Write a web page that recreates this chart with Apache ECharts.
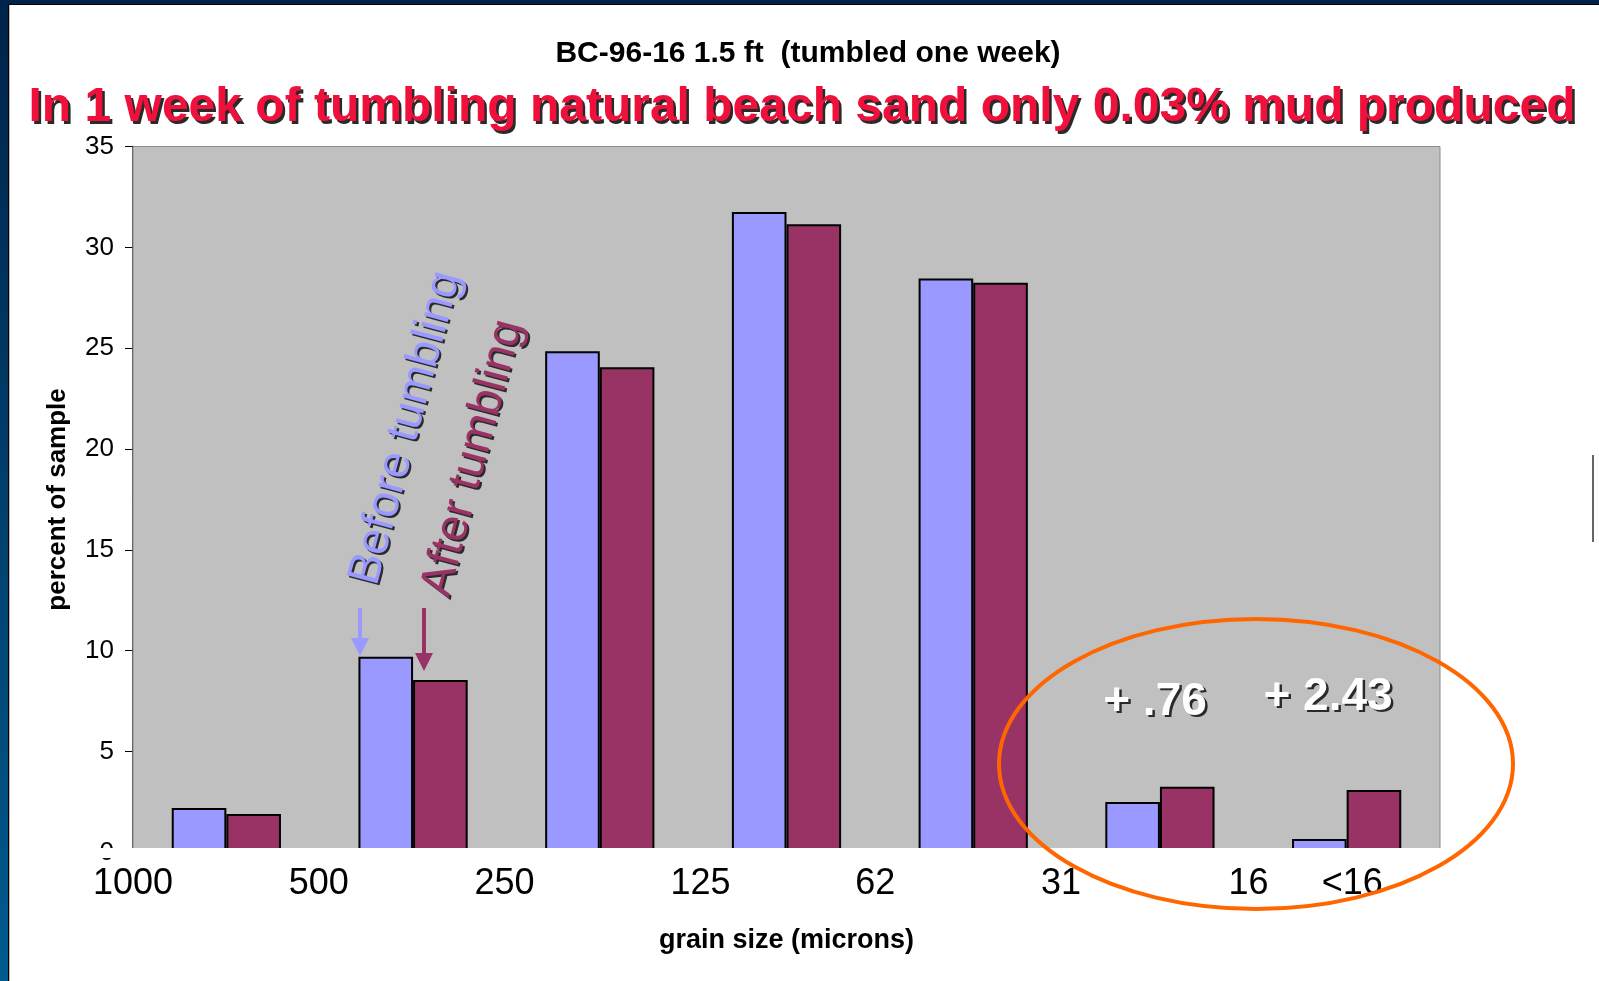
<!doctype html>
<html>
<head>
<meta charset="utf-8">
<style>
  html, body { margin:0; padding:0; background:#fff; }
  #main { width:1599px; height:981px; }
</style>
</head>
<body>
<div id="main"></div>
<script src="https://cdn.jsdelivr.net/npm/echarts@6/dist/echarts.min.js"></script>
<script>
// grain size bins (7 bins between the boundary labels)
var bins = ['1000-500', '500-250', '250-125', '125-62', '62-31', '31-16', '<16'];
var beforeTumbling = [2.2, 9.7, 24.85, 31.75, 28.45, 2.5, 0.66];
var afterTumbling = [1.9, 8.55, 24.05, 31.15, 28.25, 3.25, 3.1];
// labels sit on the bin boundaries, '<16' under the last bin
var boundaryPos = [0, 0.995, 1.99, 3.04, 3.975, 4.97, 5.975, 6.53];
var boundaryLabels = ['1000', '500', '250', '125', '62', '31', '16', '<16'];
var yTicks = [0, 5, 10, 15, 20, 25, 30, 35];

var font = '"Liberation Sans", Arial, sans-serif';
var colBefore = '#9999FF', colAfter = '#993366';

function shadowText(x, y, txt, size, weight, fill, rot, off) {
  var base = { text: txt, font: weight + ' ' + size + 'px ' + font, textAlign: 'center', textVerticalAlign: 'middle' };
  return [
    { type: 'text', x: x + off, y: y + off, rotation: rot, z: 50, style: Object.assign({}, base, { fill: '#2a2a2a' }) },
    { type: 'text', x: x, y: y, rotation: rot, z: 51, style: Object.assign({}, base, { fill: fill }) }
  ];
}

function arrow(x, y1, y2, color) {
  return [
    { type: 'line', z: 52, shape: { x1: x, y1: y1, x2: x, y2: y2 - 14 }, style: { stroke: color, lineWidth: 4 } },
    { type: 'polygon', z: 52, shape: { points: [[x - 9, y2 - 18], [x + 9, y2 - 18], [x, y2]] }, style: { fill: color } }
  ];
}

var rot = 75 * Math.PI / 180;
var graphics = [
  // slide frame
  { type: 'rect', z: 0, shape: { x: 0, y: 0, width: 8, height: 981 },
    style: { fill: new echarts.graphic.LinearGradient(0, 0, 0, 1, [{ offset: 0, color: '#00234a' }, { offset: 1, color: '#005b8e' }]) } },
  { type: 'rect', z: 0, shape: { x: 8, y: 0, width: 1, height: 981 }, style: { fill: '#000' } },
  { type: 'rect', z: 0, shape: { x: 9, y: 4, width: 1, height: 977 }, style: { fill: '#bbb' } },
  { type: 'rect', z: 0, shape: { x: 0, y: 0, width: 1599, height: 4 }, style: { fill: '#00234a' } },
  { type: 'rect', z: 0, shape: { x: 8, y: 4, width: 1591, height: 1 }, style: { fill: '#000' } },
  { type: 'line', z: 0, shape: { x1: 1593, y1: 455, x2: 1593, y2: 542 }, style: { stroke: '#333', lineWidth: 1.5 } },
  // titles
  { type: 'text', x: 808, y: 54, z: 10, style: { text: 'BC-96-16 1.5 ft  (tumbled one week)', font: 'bold 30px ' + font, fill: '#000', textAlign: 'center', textVerticalAlign: 'middle' } },
  // cropped bottom of the plot
  { type: 'rect', z: 40, shape: { x: 90, y: 848, width: 1360, height: 10 }, style: { fill: '#fff' } },
  // highlight ellipse
  { type: 'ellipse', z: 60, shape: { cx: 1256, cy: 764, rx: 257, ry: 145 }, style: { fill: 'none', stroke: '#FF6600', lineWidth: 4 } }
];
graphics = graphics
  .concat(shadowText(802, 108, 'In 1 week of tumbling natural beach sand only 0.03% mud produced', 48, 'bold', '#F0103C', 0, 2.5))
  .concat(shadowText(406, 428, 'Before tumbling', 46, 'normal', colBefore, rot, 2))
  .concat(shadowText(473, 458, 'After tumbling', 46, 'normal', colAfter, rot, 2))
  .concat(shadowText(1155, 702, '+ .76', 46, 'bold', '#fff', 0, 2.5))
  .concat(shadowText(1328, 697, '+ 2.43', 46, 'bold', '#fff', 0, 2.5))
  .concat(arrow(360, 608, 656, colBefore))
  .concat(arrow(424, 608, 671, colAfter));

var chart = echarts.init(document.getElementById('main'));
chart.setOption({
  backgroundColor: '#fff',
  animation: false,
  grid: { left: 133, right: 159, top: 146.5, bottom: 128.6, show: true, backgroundColor: '#C0C0C0', borderColor: '#8c8c8c', borderWidth: 1, z: 1 },
  xAxis: [
    { type: 'category', data: bins, axisLine: { show: false }, axisTick: { show: false }, axisLabel: { show: false } },
    { type: 'value', position: 'bottom', min: 0, max: 7,
      axisLine: { show: false }, axisTick: { show: false }, splitLine: { show: false },
      axisLabel: { fontSize: 36, fontFamily: font, color: '#000', margin: 14, customValues: boundaryPos,
        formatter: function (v) { var i = boundaryPos.indexOf(v); return i < 0 ? '' : boundaryLabels[i]; } },
      name: 'grain size (microns)', nameLocation: 'middle', nameGap: 75,
      nameTextStyle: { fontSize: 27, fontWeight: 'bold', fontFamily: font, color: '#000' } }
  ],
  yAxis: {
    type: 'value', min: yTicks[0], max: yTicks[yTicks.length - 1], interval: 5,
    axisLine: { show: true, lineStyle: { color: '#000', width: 1.5 } },
    axisTick: { show: true, length: 8, lineStyle: { color: '#000' } },
    axisLabel: { fontSize: 26, fontFamily: font, color: '#000', margin: 19 },
    splitLine: { show: true, lineStyle: { color: '#000', width: 1 } },
    name: 'percent of sample', nameLocation: 'middle', nameRotate: 90, nameGap: 62,
    nameTextStyle: { fontSize: 26, fontWeight: 'bold', fontFamily: font, color: '#000' }
  },
  series: [
    { name: 'Before tumbling', type: 'bar', data: beforeTumbling, barGap: '0%', barCategoryGap: '41.5%',
      itemStyle: { color: colBefore, borderColor: '#000', borderWidth: 2 } },
    { name: 'After tumbling', type: 'bar', data: afterTumbling, barGap: '0%', barCategoryGap: '41.5%',
      itemStyle: { color: colAfter, borderColor: '#000', borderWidth: 2 } }
  ],
  graphic: graphics
});
</script>
</body>
</html>
